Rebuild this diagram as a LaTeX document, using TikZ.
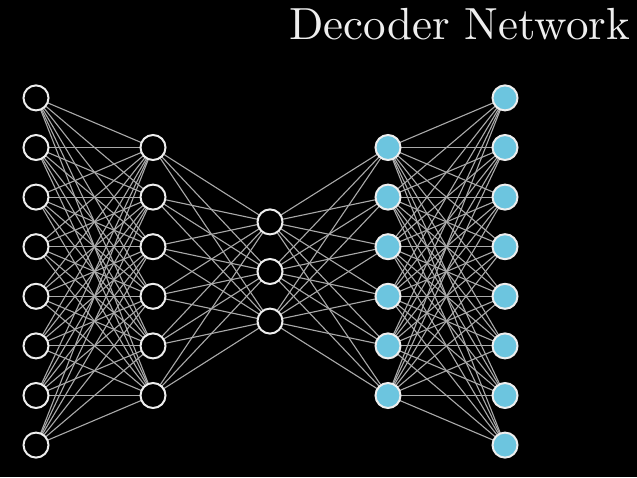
\documentclass[tikz,border=0pt]{standalone}
\usepackage{fontspec}
\newfontfamily\titlefont{lmroman10-regular.otf}
\usetikzlibrary{backgrounds}
\definecolor{caaaaaa}{RGB}{170,170,170}
\definecolor{c6cc5df}{RGB}{108,197,223}
\definecolor{ceeeeee}{RGB}{238,238,238}

\begin{document}
\begin{tikzpicture}[y=1pt,x=1pt,yscale=-1,inner sep=0pt,outer sep=0pt,
  hollow/.style={circle,draw=ceeeeee,fill=black,line width=2pt,minimum size=25pt},
  filled/.style={circle,draw=ceeeeee,fill=c6cc5df,line width=2pt,minimum size=25pt},
  link/.style={draw=caaaaaa,line width=1.1pt}]
\useasboundingbox (0,0) rectangle (637,477);

  \path (630,39) node[anchor=base east,text=ceeeeee] (title)
    {\titlefont\fontsize{45}{50}\selectfont Decoder Network};

  % encoder side and code layer
  \foreach \l/\x/\n in {1/36/8,2/153/6,3/270/3}
    \foreach \i in {1,...,\n}
      \node[hollow] (l\l-\i) at (\x,{271.5+(\i-(\n+1)/2)*49.6}) {};
  % decoder side
  \foreach \l/\x/\n in {4/388/6,5/505/8}
    \foreach \i in {1,...,\n}
      \node[filled] (l\l-\i) at (\x,{271.5+(\i-(\n+1)/2)*49.6}) {};

  \begin{pgfonlayer}{background}
  \path[fill=black] (0,0) rectangle (637,477);
  \foreach \a/\b/\na/\nb in {1/2/8/6,2/3/6/3,3/4/3/6,4/5/6/8}
    \foreach \i in {1,...,\na}
      \foreach \j in {1,...,\nb}
        \path[link] (l\a-\i) -- (l\b-\j);
  \end{pgfonlayer}
\end{tikzpicture}
\end{document}
